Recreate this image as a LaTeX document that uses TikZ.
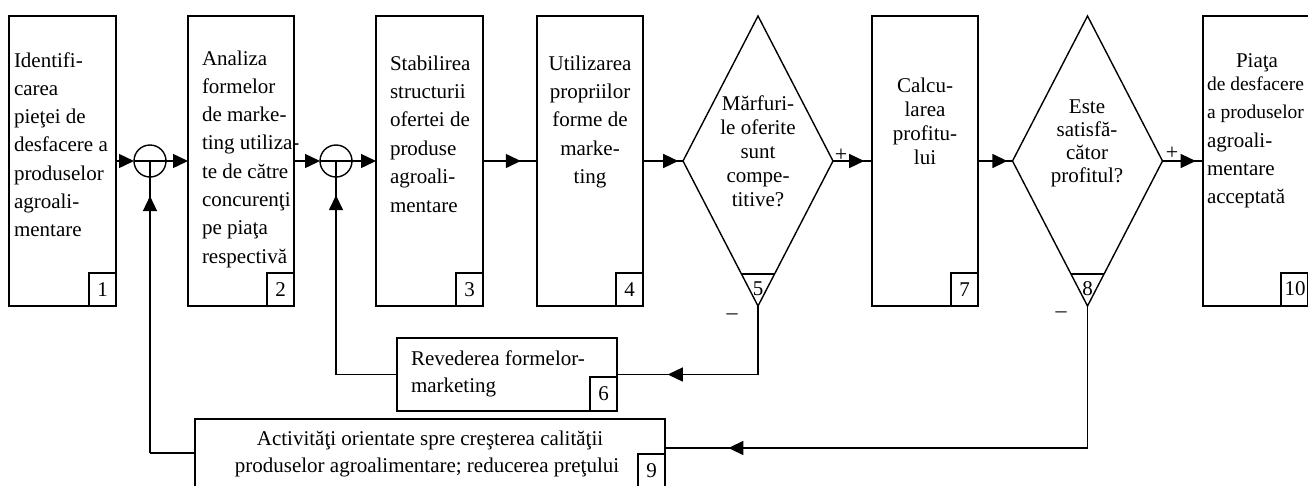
\documentclass[tikz,border=0pt]{standalone}
\usepackage{fontspec}
\setmainfont{Liberation Serif}
\usetikzlibrary{shapes.geometric,arrows.meta,decorations.markings}
\begin{document}
\begin{tikzpicture}[x=1pt,y=-1pt,
  every node/.style={inner sep=0pt, outer sep=0pt},
  ln/.style={line width=1.4pt},
  tip/.style={-{Triangle[length=15pt,width=14pt]}},
  midarr/.style={postaction={decorate}, decoration={markings, mark=at position #1 with {\arrow{Triangle[length=15pt,width=14pt]}}}},
  blk/.style={draw, line width=1.4pt, rectangle},
  num/.style={draw, line width=1.4pt, rectangle, minimum width=27pt, minimum height=33pt, font=\fontsize{21}{24}\selectfont},
  dia/.style={draw, line width=1.4pt, diamond, minimum width=150pt, minimum height=290pt},
  circ/.style={draw, line width=1.4pt, circle, minimum size=32pt},
  txt/.style={font=\fontsize{21}{24}\selectfont},
  txtn/.style={font=\fontsize{19.5}{24}\selectfont},
  sgn/.style={font=\fontsize{22}{24}\selectfont}]
\useasboundingbox (0,0) rectangle (1308,485);

% main boxes
\node[blk, minimum width=107pt, minimum height=290pt] (b1) at (62.5,161) {};
\node[blk, minimum width=106pt, minimum height=290pt] (b2) at (241,161) {};
\node[blk, minimum width=107pt, minimum height=290pt] (b3) at (429.5,161) {};
\node[blk, minimum width=106pt, minimum height=290pt] (b4) at (590,161) {};
\node[blk, minimum width=106pt, minimum height=290pt] (b7) at (925,161) {};
\node[blk, minimum width=108pt, minimum height=290pt] (b10) at (1257,161) {};
\node[blk, minimum width=220pt, minimum height=73pt] (b6) at (507,374.5) {};
\node[blk, minimum width=470pt, minimum height=68pt] (b9) at (430,453) {};
\node[dia] (d5) at (758,161) {};
\node[dia] (d8) at (1087.5,161) {};
\node[circ] (c1) at (150,161) {};
\node[circ] (c2) at (336,161) {};

% number boxes
\node[num, anchor=south east] (n1) at (b1.south east) {1};
\node[num, anchor=south east] (n2) at (b2.south east) {2};
\node[num, anchor=south east] (n3) at (b3.south east) {3};
\node[num, anchor=south east] (n4) at (b4.south east) {4};
\node[num, anchor=south east] (n7) at (b7.south east) {7};
\node[num, anchor=south west, minimum height=33pt] (n10) at (1281,306) {};
\node[txt] (n10t) at (1295,289) {10};
\node[num, anchor=south east, minimum height=34pt] (n6) at (b6.south east) {6};
\node[num, anchor=south east] (n9) at (b9.south east) {9};

% triangles at diamond bottoms
\draw[ln] ([shift={(-16.5,-32)}]d5.south) -- ([shift={(16.5,-32)}]d5.south);
\draw[ln] ([shift={(-16.5,-32)}]d8.south) -- ([shift={(16.5,-32)}]d8.south);
\node[txt] (n5) at ([shift={(0,-17)}]d5.south) {5};
\node[txt] (n8) at ([shift={(0,-17)}]d8.south) {8};

% texts
\foreach \t [count=\i from 0] in {Identifi-,carea,pieţei de,desfacere a,produselor,agroali-,mentare}
  \node[txt, anchor=base west] (ta\i) at (14,67+\i*28.3) {\t};
\foreach \t [count=\i from 0] in {Analiza,formelor,de marke-,ting utiliza-,te de către,concurenţi,pe piaţa,respectivă}
  \node[txt, anchor=base west] (tb\i) at (202,65+\i*28.3) {\t};
\foreach \t [count=\i from 0] in {Stabilirea,structurii,ofertei de,produse,agroali-,mentare}
  \node[txt, anchor=base west] (tc\i) at (390,70+\i*28.4) {\t};
\foreach \t [count=\i from 0] in {Utilizarea,propriilor,forme de,marke-,ting}
  \node[txt, anchor=base] (td\i) at (590,70+\i*28.4) {\t};
\foreach \t [count=\i from 0] in {Mărfuri-,le oferite,sunt,compe-,titive?}
  \node[txt, anchor=base] (te\i) at (758,110+\i*24) {\t};
\foreach \t [count=\i from 0] in {Calcu-,larea,profitu-,lui}
  \node[txt, anchor=base] (tf\i) at (925,92+\i*24) {\t};
\foreach \t [count=\i from 0] in {Este,satisfă-,cător,profitul?}
  \node[txt, anchor=base] (tg\i) at (1087,113+\i*23.3) {\t};
\node[txt, anchor=base] (th0) at (1257,67) {Piaţa};
\node[txtn, anchor=base west] (th1) at (1207,90) {de desfacere};
\node[txtn, anchor=base west] (th2) at (1207,118) {a produselor};
\node[txt, anchor=base west] (th3) at (1207,147) {agroali-};
\node[txt, anchor=base west] (th4) at (1207,175) {mentare};
\node[txt, anchor=base west] (th5) at (1207,203) {acceptată};
\node[txt, anchor=base west] (ti0) at (411,365) {Revederea formelor-};
\node[txt, anchor=base west] (ti1) at (411,392) {marketing};
\node[txt, anchor=base] (tj0) at (430,445) {Activităţi orientate spre creşterea calităţii};
\node[txt, anchor=base] (tj1) at (427,472) {produselor agroalimentare; reducerea preţului};

% signs
\node[sgn] (p5) at (841,155) {+};
\node[sgn] (p8) at (1172,153) {+};
\node[sgn] (m5) at (732,317) {–};
\node[sgn] (m8) at (1061,315) {–};

% main flow
\draw[ln,tip] (b1.east) -- (c1.west);
\draw[ln] (c1.west) -- (c1.east);
\draw[ln,tip] (c1.east) -- (b2.west);
\draw[ln,tip] (b2.east) -- (c2.west);
\draw[ln] (c2.west) -- (c2.east);
\draw[ln,tip] (c2.east) -- (b3.west);
\draw[ln,midarr=0.7] (b3.east) -- (b4.west);
\draw[ln,midarr=0.88] (b4.east) -- (d5.west);
\draw[ln,midarr=0.8] (d5.east) -- (b7.west);
\draw[ln,midarr=0.85] (b7.east) -- (d8.west);
\draw[ln,midarr=0.82] (d8.east) -- (b10.west);

% loop 5 -> 6 -> circle 2
\coordinate (k5) at (d5.south |- b6.east);
\draw[ln] (d5.south) -- (k5);
\draw[ln,midarr=0.64] (k5) -- (b6.east);
\coordinate (k6) at (c2.center |- b6.west);
\draw[ln] (b6.west) -- (k6);
\draw[ln,midarr=0.84] (k6) -- (c2.center);

% loop 8 -> 9 -> circle 1
\coordinate (k8) at (1087.5,448);
\coordinate (e9) at (b9.east |- k8);
\draw[ln] (d8.south) -- (k8);
\draw[ln,midarr=0.85] (k8) -- (e9);
\coordinate (k9) at (c1.center |- b9.west);
\draw[ln] (b9.west) -- (k9);
\draw[ln,midarr=0.88] (k9) -- (c1.center);
\end{tikzpicture}
\end{document}
